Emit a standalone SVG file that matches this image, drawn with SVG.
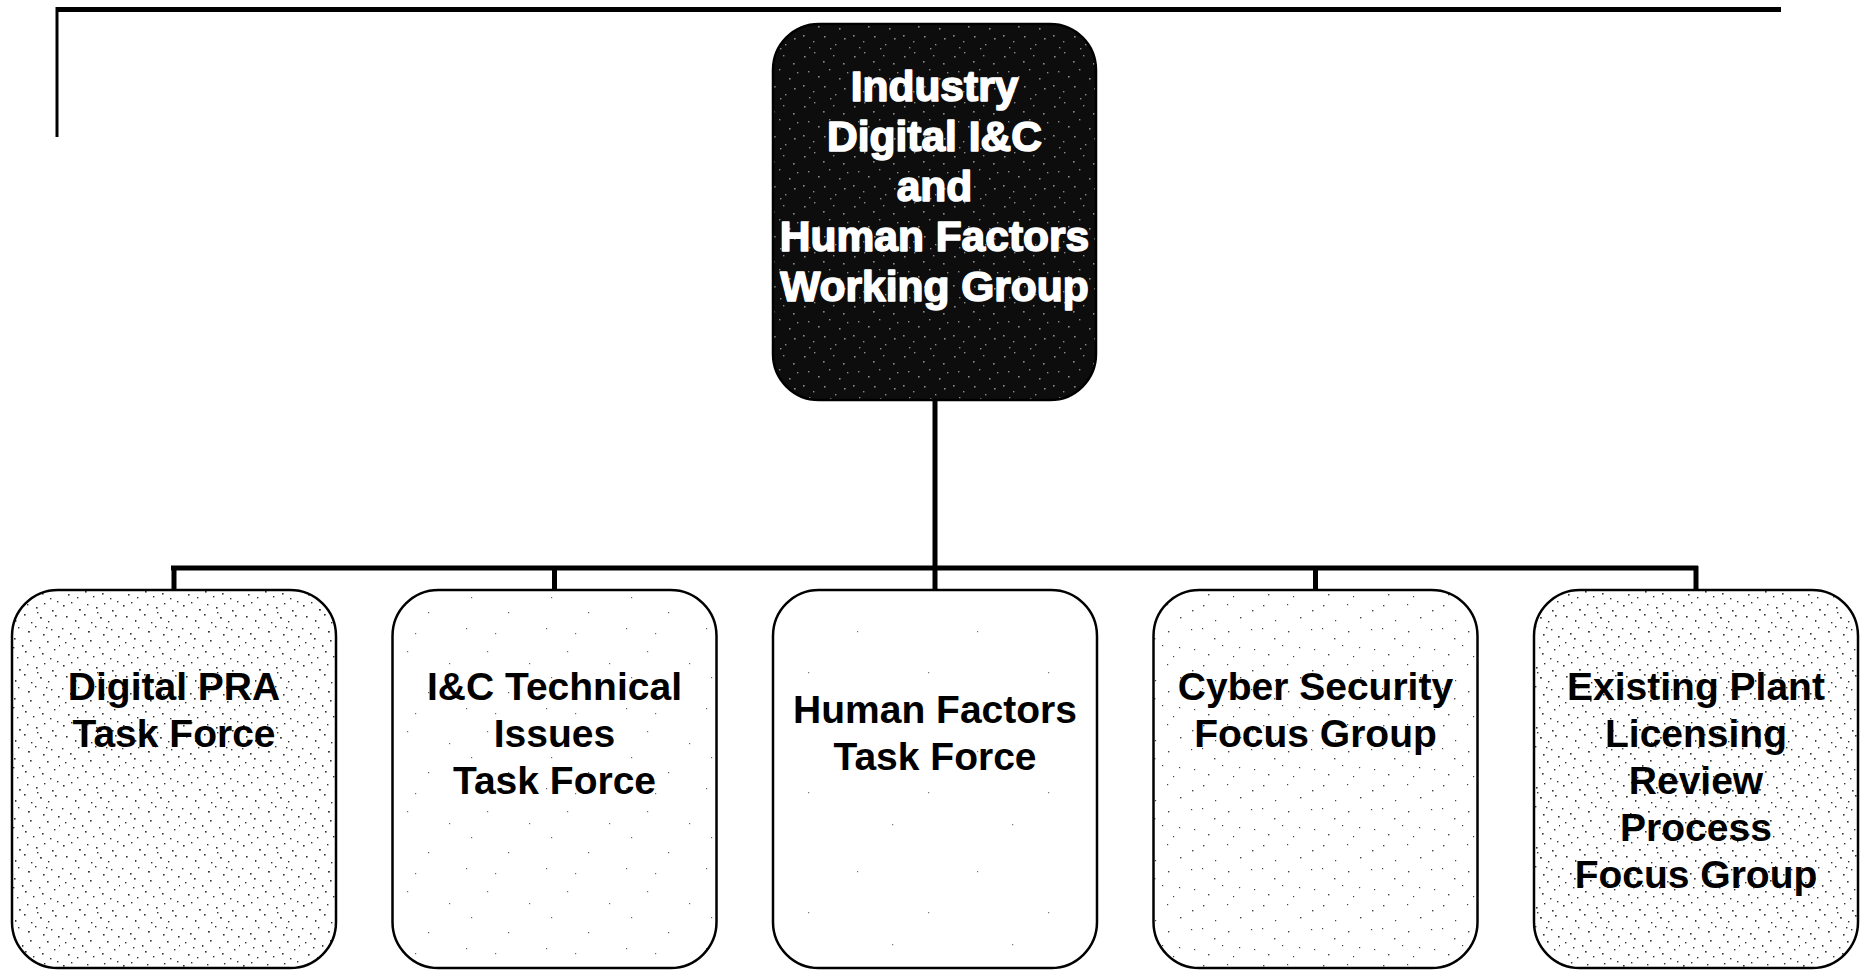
<svg xmlns="http://www.w3.org/2000/svg" width="1862" height="970" viewBox="0 0 1862 970">
<style>
.box{stroke:#000;stroke-width:2.5}
.lbl{font-family:"Liberation Sans",Arial,sans-serif;font-weight:bold;font-size:39px;fill:#000;text-anchor:middle}
.top{font-family:"Liberation Sans",Arial,sans-serif;font-weight:bold;font-size:42.5px;fill:#fff;stroke:#fff;stroke-width:1.6;stroke-linejoin:round;text-anchor:middle}
.conn{stroke:#000;stroke-width:5;fill:none}
</style>
<defs>
<pattern id="heavy" width="60" height="60" patternUnits="userSpaceOnUse">
<rect width="60" height="60" fill="#fff"/>
<g fill="#333">
<rect x="3" y="5" width="1.6" height="1.6"/><rect x="11" y="2" width="1.4" height="1.4"/><rect x="19" y="9" width="1.8" height="1.6"/><rect x="27" y="4" width="1.4" height="1.4"/><rect x="36" y="7" width="1.6" height="1.6"/><rect x="44" y="3" width="1.4" height="1.4"/><rect x="52" y="10" width="1.6" height="1.6"/><rect x="57" y="1" width="1.4" height="1.4"/><rect x="6" y="16" width="1.6" height="1.6"/><rect x="15" y="20" width="1.4" height="1.8"/><rect x="24" y="14" width="1.6" height="1.6"/><rect x="31" y="22" width="1.4" height="1.4"/><rect x="40" y="17" width="1.8" height="1.6"/><rect x="48" y="21" width="1.4" height="1.4"/><rect x="55" y="15" width="1.6" height="1.6"/><rect x="2" y="28" width="1.4" height="1.4"/><rect x="10" y="33" width="1.6" height="1.6"/><rect x="18" y="27" width="1.4" height="1.4"/><rect x="28" y="31" width="1.8" height="1.6"/><rect x="35" y="26" width="1.4" height="1.4"/><rect x="43" y="34" width="1.6" height="1.6"/><rect x="51" y="29" width="1.4" height="1.4"/><rect x="58" y="36" width="1.6" height="1.6"/><rect x="5" y="42" width="1.4" height="1.4"/><rect x="14" y="38" width="1.6" height="1.6"/><rect x="22" y="45" width="1.4" height="1.8"/><rect x="30" y="40" width="1.6" height="1.6"/><rect x="39" y="47" width="1.4" height="1.4"/><rect x="47" y="41" width="1.6" height="1.6"/><rect x="54" y="49" width="1.4" height="1.4"/><rect x="8" y="54" width="1.6" height="1.6"/><rect x="17" y="57" width="1.4" height="1.4"/><rect x="25" y="51" width="1.6" height="1.6"/><rect x="33" y="56" width="1.4" height="1.4"/><rect x="42" y="53" width="1.6" height="1.6"/><rect x="50" y="58" width="1.4" height="1.4"/><rect x="59" y="45" width="1" height="1.4"/><rect x="13" y="47" width="1.4" height="1.4"/><rect x="37" y="12" width="1.4" height="1.4"/><rect x="46" y="27" width="1.4" height="1.4"/>
</g>
</pattern>
<pattern id="medium" width="60" height="60" patternUnits="userSpaceOnUse">
<rect width="60" height="60" fill="#fff"/>
<g fill="#444">
<rect x="3" y="5" width="1.4" height="1.4"/><rect x="27" y="4" width="1.2" height="1.2"/><rect x="52" y="10" width="1.4" height="1.4"/><rect x="15" y="20" width="1.2" height="1.2"/><rect x="40" y="17" width="1.4" height="1.4"/><rect x="2" y="28" width="1.2" height="1.2"/><rect x="28" y="31" width="1.4" height="1.4"/><rect x="51" y="29" width="1.2" height="1.2"/><rect x="14" y="38" width="1.4" height="1.4"/><rect x="39" y="47" width="1.2" height="1.2"/><rect x="8" y="54" width="1.4" height="1.4"/><rect x="33" y="56" width="1.2" height="1.2"/><rect x="54" y="49" width="1.2" height="1.2"/><rect x="22" y="45" width="1.2" height="1.2"/>
</g>
</pattern>
<pattern id="light" width="80" height="80" patternUnits="userSpaceOnUse">
<rect width="80" height="80" fill="#fff"/>
<g fill="#666">
<rect x="7" y="11" width="1.2" height="1.2"/><rect x="49" y="23" width="1.2" height="1.2"/><rect x="28" y="52" width="1.2" height="1.2"/><rect x="66" y="68" width="1.2" height="1.2"/><rect x="15" y="73" width="1.2" height="1.2"/><rect x="71" y="37" width="1.2" height="1.2"/>
</g>
</pattern>
<pattern id="faint" width="120" height="120" patternUnits="userSpaceOnUse">
<rect width="120" height="120" fill="#fff"/>
<g fill="#777">
<rect x="17" y="31" width="1.2" height="1.2"/><rect x="88" y="72" width="1.2" height="1.2"/><rect x="52" y="104" width="1.2" height="1.2"/>
</g>
</pattern>
<pattern id="dark" width="50" height="50" patternUnits="userSpaceOnUse">
<rect width="50" height="50" fill="#0d0d0d"/>
<g fill="#8a8a8a">
<rect x="4" y="6" width="1.6" height="1.6"/><rect x="14" y="2" width="1.4" height="1.4"/><rect x="23" y="11" width="1.6" height="1.6"/><rect x="33" y="5" width="1.4" height="1.4"/><rect x="43" y="13" width="1.6" height="1.6"/><rect x="8" y="21" width="1.4" height="1.4"/><rect x="18" y="26" width="1.6" height="1.6"/><rect x="29" y="19" width="1.4" height="1.4"/><rect x="39" y="28" width="1.6" height="1.6"/><rect x="47" y="22" width="1.4" height="1.4"/><rect x="3" y="35" width="1.6" height="1.6"/><rect x="13" y="41" width="1.4" height="1.4"/><rect x="24" y="36" width="1.6" height="1.6"/><rect x="35" y="44" width="1.4" height="1.4"/><rect x="44" y="38" width="1.6" height="1.6"/><rect x="9" y="47" width="1.4" height="1.4"/><rect x="30" y="48" width="1.4" height="1.4"/>
</g>
</pattern>
</defs>
<rect width="1862" height="970" fill="#fff"/>
<g id="frame">
<line x1="57" y1="9.5" x2="1781" y2="9.5" stroke="#000" stroke-width="5"/>
<line x1="57" y1="7" x2="57" y2="137" stroke="#000" stroke-width="3"/>
</g>
<g id="connectors">
<line class="conn" x1="935" y1="400" x2="935" y2="568"/>
<line class="conn" x1="171" y1="568" x2="1698" y2="568"/>
<line class="conn" x1="174" y1="566" x2="174" y2="590"/>
<line class="conn" x1="554.5" y1="566" x2="554.5" y2="590"/>
<line class="conn" x1="935" y1="566" x2="935" y2="590"/>
<line class="conn" x1="1315.5" y1="566" x2="1315.5" y2="590"/>
<line class="conn" x1="1696" y1="566" x2="1696" y2="590"/>
</g>
<g id="wg">
<rect class="box" x="773" y="24" width="323" height="376" rx="46" fill="url(#dark)"/>
<text class="top" x="934.5" y="101">Industry</text>
<text class="top" x="934.5" y="151">Digital I&amp;C</text>
<text class="top" x="934.5" y="201">and</text>
<text class="top" x="934.5" y="251">Human Factors</text>
<text class="top" x="934.5" y="301">Working Group</text>
</g>
<g id="pra">
<rect class="box" x="12" y="590" width="324" height="378" rx="46" fill="url(#heavy)"/>
<text class="lbl" x="174" y="700">Digital PRA</text>
<text class="lbl" x="174" y="747">Task Force</text>
</g>
<g id="ictech">
<rect class="box" x="392.5" y="590" width="324" height="378" rx="46" fill="url(#light)"/>
<text class="lbl" x="554.5" y="700">I&amp;C Technical</text>
<text class="lbl" x="554.5" y="747">Issues</text>
<text class="lbl" x="554.5" y="794">Task Force</text>
</g>
<g id="hf">
<rect class="box" x="773" y="590" width="324" height="378" rx="46" fill="url(#faint)"/>
<text class="lbl" x="935" y="723">Human Factors</text>
<text class="lbl" x="935" y="770">Task Force</text>
</g>
<g id="cyber">
<rect class="box" x="1153.5" y="590" width="324" height="378" rx="46" fill="url(#medium)"/>
<text class="lbl" x="1315.5" y="700">Cyber Security</text>
<text class="lbl" x="1315.5" y="747">Focus Group</text>
</g>
<g id="licensing">
<rect class="box" x="1534" y="590" width="324" height="378" rx="46" fill="url(#heavy)"/>
<text class="lbl" x="1696" y="700">Existing Plant</text>
<text class="lbl" x="1696" y="747">Licensing</text>
<text class="lbl" x="1696" y="794">Review</text>
<text class="lbl" x="1696" y="841">Process</text>
<text class="lbl" x="1696" y="888">Focus Group</text>
</g>
</svg>
